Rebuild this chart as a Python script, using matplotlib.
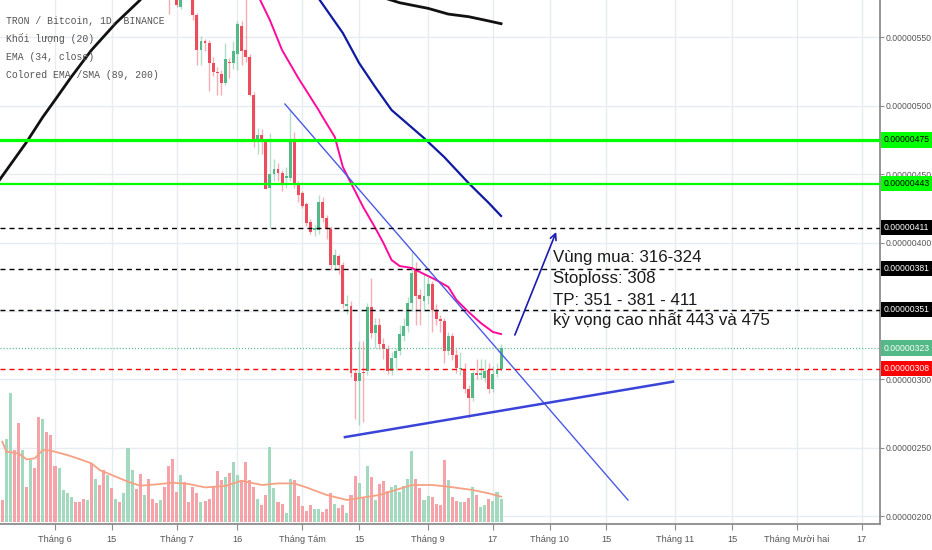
import matplotlib
matplotlib.use("Agg")
import matplotlib.pyplot as plt
import matplotlib.transforms as mtransforms
from matplotlib import font_manager
import numpy as np
import pandas as pd

plt.rcParams['lines.scale_dashes'] = False

# ---------------- data (prices in satoshi, 1 sat = 0.00000001 BTC) ----------------
start_date = "2018-05-19"
ref_date = "2018-06-01"

opens = [760, 748, 758, 790, 770, 742, 755, 748, 760, 745,
         712, 735, 710, 690, 680, 688, 694, 699, 703, 698,
         692, 688, 692, 670, 678, 672, 660, 668, 662, 665,
         660, 664, 690, 698, 680, 665, 670, 655, 648, 642,
         646, 625, 602, 590, 572, 598, 592, 586, 566, 540.5,
         547, 546, 531, 525, 523, 517, 532, 531, 538, 558,
         541, 536, 507.6, 474, 479, 474, 440, 450, 454, 451,
         447, 447, 474, 443, 436, 428, 415, 409.5, 409.5, 429.5,
         418, 410, 384, 390, 384, 353.5, 354, 305, 298.6, 305.5,
         306, 353, 333.7, 340, 325.7, 322, 306, 315.5, 320.6, 331.5,
         339, 355.6, 380, 362, 357, 361, 369.5, 350.5, 344, 342.5,
         320.6, 331.5, 318, 307.5, 308, 292.8, 286.2, 304.5, 303, 301,
         306.7, 292.8, 303.7, 307.4]
highs = [768, 764, 800, 796, 775, 760, 760, 766, 764, 750,
         742, 738, 714, 694, 692, 698, 703, 707, 706, 701,
         695, 696, 695, 683, 681, 675, 672, 671, 669, 668,
         668, 698, 704, 701, 684, 675, 673, 658, 651, 650,
         649, 628, 606, 594, 596, 604, 595, 590, 568, 551,
         549, 548, 536, 528, 526, 545.6, 535, 547, 562, 562,
         580, 538, 510, 483.5, 483, 476, 480, 461, 458, 453,
         455, 497, 481, 445, 438, 430, 417, 413, 435, 433,
         420, 412, 395, 392, 386, 362, 357, 308, 328, 328,
         356, 374, 345, 345, 330, 325, 320, 323, 340, 345,
         360, 393.6, 386, 366, 377, 375, 372, 355, 347, 345,
         335, 334, 322, 320, 312, 296, 306, 315, 315, 315,
         312, 310, 312, 325.6]
lows = [742, 744, 752, 764, 736, 738, 744, 745, 740, 705,
        708, 704, 684, 674, 676, 684, 690, 695, 694, 688,
        684, 685, 664, 666, 668, 655, 657, 658, 659, 656,
        657, 661, 686, 675, 660, 661, 650, 643, 637, 638,
        619, 567, 578, 572, 571, 588, 580, 563, 530, 530,
        540, 510.5, 522, 508, 508, 515, 520, 527, 526, 530,
        532, 507, 470, 465, 465, 439, 410.4, 445, 445, 438,
        440, 445, 440, 430, 425, 412, 406, 405, 406, 415,
        403, 380, 380, 377, 352, 348, 302, 271, 267, 269,
        303, 330, 323, 322, 315, 304, 303, 307, 318, 328,
        335, 350, 340, 340, 350, 355, 335, 340, 335, 312,
        318, 314, 305, 303, 290, 271.6, 284, 300, 300, 298,
        290, 291, 302, 306]
closes = [748, 758, 790, 770, 742, 755, 748, 760, 745, 712,
          735, 710, 690, 680, 688, 694, 699, 703, 698, 692,
          688, 692, 670, 678, 672, 660, 668, 662, 665, 660,
          664, 690, 698, 680, 665, 670, 655, 648, 642, 646,
          625, 600, 590, 574, 592, 592, 586, 566, 540.5, 547,
          546, 531, 525, 524, 517, 534, 531, 540, 559.5, 540,
          536, 507.6, 474, 479, 474, 439, 450, 454, 451, 443,
          448.5, 474, 443, 435, 426.5, 414, 408, 411, 429.5, 418,
          410, 384, 391, 384, 355, 355, 304.5, 298.6, 305, 304.5,
          353, 333.7, 340, 325.7, 322, 306, 315.5, 320.6, 333, 339,
          355.6, 377.6, 361, 359, 361, 369.5, 350.5, 344, 342.5, 320.6,
          331.5, 318, 308.5, 308.5, 292.8, 286.2, 304.5, 303.5, 304.5, 306.5,
          292.8, 303.7, 307.4, 323]
volumes = [21.7, 82.3, 129, 71.7, 98.3, 71.7, 34.3, 61.7, 53.3, 104.3,
           102.3, 89.7, 86.7, 55.7, 53.3, 31.7, 29, 25, 19.7, 19.7,
           22.7, 21.7, 58.3, 43, 36.7, 51.7, 47, 34, 22.7, 19.7,
           29, 73.7, 51.7, 32.3, 47.7, 26.7, 42.7, 22.7, 18.3, 21.7,
           34.3, 55.7, 62.3, 30, 47, 40, 19.7, 34.3, 29, 19.7,
           20.7, 23, 34.3, 51, 41.7, 44.3, 48.3, 60, 47, 41.7,
           60, 41.7, 34.3, 23, 16.7, 26.7, 74.7, 33.3, 19.7, 17.7,
           9, 42.7, 41.7, 25.7, 15.7, 11, 16.3, 12.3, 12.3, 9.7,
           12.3, 28.3, 17.7, 13.3, 16.3, 9, 26.7, 46, 39, 25,
           55.7, 45, 21.7, 37.7, 41, 31, 34.3, 36.3, 30, 35.7,
           42.7, 70.7, 42.7, 33.3, 21.7, 26, 25, 17.7, 16.7, 61.3,
           41.7, 25, 21, 19.3, 20, 24, 34.3, 26.7, 14.3, 16.3,
           23, 21, 30, 23]

# volume moving average (20): day offset from ref_date, value
vma_days = [-13, -12, -9, -7, -5, -3, -1, 3, 6, 9, 11, 14, 18, 21, 25, 29, 33, 37, 42, 46,
            51, 55, 59, 62, 67, 72, 76, 80, 84, 88, 93, 97, 103, 107, 110]
vma_vals = [80, 70, 68.3, 62.3, 63.3, 71.7, 71, 66.7, 62.7, 58.3, 51.7, 46.7, 40, 36, 37.3, 39, 37.7, 34.3, 35.7, 41,
            36.7, 38.3, 38.3, 34.3, 26.7, 21.7, 24.3, 26.7, 31.7, 36.7, 36.7, 35, 31.7, 28.3, 25]

# EMA 34 (magenta)
ema_days = [50, 53, 56, 60, 65, 66, 69, 71, 73, 76, 79, 81, 83, 85, 88, 90, 94, 97, 99, 102, 105, 108, 110]
ema_vals = [581, 562.6, 540.7, 520.3, 496.9, 491.8, 477.2, 455.2, 443.5, 426.0, 410.7, 399.7, 387.3, 382.9,
            381.5, 378.5, 372.7, 367.6, 358.1, 349.3, 341.3, 334.7, 333.2]

# Colored EMA/SMA (89, 200)
sma_blue_days = [65, 71, 75, 79, 83, 91, 96, 102, 107, 110]
sma_blue_vals = [578.5, 553.1, 531.2, 513.6, 496.9, 476.4, 462.5, 443.5, 428.9, 419.5]
sma_black_days = [-14, -7, -3, 0, 4, 9, 15, 21, 22, np.nan, 81, 85, 92, 97, 102, 106, 110]
sma_black_vals = [444.5, 473.5, 491.8, 504.2, 521.0, 540.7, 560.4, 577.3, 582, np.nan,
                  579, 575.3, 571.2, 567.0, 565.1, 562.6, 560.0]

# drawn trend lines (day offset, price)
trend_down_days = [56.7, 141.3]
trend_down_vals = [501.3, 211.9]
trend_up_days = [71.5, 152.4]
trend_up_vals = [257.9, 298.4]

# horizontal levels
level_vals = [475, 443, 411, 381, 351, 308]
level_kinds = ["green_thick", "green", "black", "black", "black", "red"]

# arrow and note
arrow_days = [113.4, 123.6]
arrow_vals = [332.5, 407.8]
note_lines = ["Vùng mua: 316-324", "Stoploss: 308", "TP: 351 - 381 - 411", "kỳ vọng cao nhất 443 và 475"]
note_day = 122.9
note_vals = [386.0, 370.7, 354.4, 339.8]

legend_lines = ["TRON / Bitcoin, 1D, BINANCE", "Khối lượng (20)", "EMA (34, close)", "Colored EMA /SMA (89, 200)"]

tick_dates = ["2018-06-01", "2018-06-15", "2018-07-01", "2018-07-16", "2018-08-01", "2018-08-15",
              "2018-09-01", "2018-09-17", "2018-10-01", "2018-10-15", "2018-11-01", "2018-11-15",
              "2018-12-01", "2018-12-17"]
tick_labels = ["Tháng 6", "15", "Tháng 7", "16", "Tháng Tám", "15", "Tháng 9", "17",
               "Tháng 10", "15", "Tháng 11", "15", "Tháng Mười hai", "17"]
price_ticks = [200, 250, 300, 350, 400, 450, 500, 550]
price_tick_labels = ["0.00000200", "0.00000250", "0.00000300", "", "0.00000400",
                     "0.00000450", "0.00000500", "0.00000550"]

# ---------------- fonts ----------------
avail = {f.name for f in font_manager.fontManager.ttflist}
if "Liberation Sans Narrow" in avail:
    axis_font, axis_size = ["Liberation Sans Narrow", "DejaVu Sans"], 7.4
else:
    axis_font, axis_size = ["Liberation Sans", "DejaVu Sans"], 6.2
mono_font = ["Liberation Mono", "DejaVu Sans Mono", "DejaVu Sans"]

# ---------------- derived ----------------
dates = pd.date_range(start_date, periods=len(opens), freq="D")
ref = pd.Timestamp(ref_date)
days = np.array([(d - ref).days for d in dates], dtype=float)
o = np.array(opens); h = np.array(highs); l = np.array(lows); c = np.array(closes)
up = c >= o
tick_days = [(pd.Timestamp(t) - ref).days for t in tick_dates]

UP = "#53b987"
DOWN = "#eb4d5c"
VOL_UP = "#a3d9bf"
VOL_DOWN = "#f5a3a9"
GRID = "#e7ecf1"
AXIS = "#8c8c8c"
TXT = "#555555"

fig = plt.figure(figsize=(9.32, 5.5), dpi=100)
fig.patch.set_facecolor("white")
ax = fig.add_axes([0, 26 / 550, 880 / 932, 524 / 550])
ax2 = ax.twinx()
ax.set_zorder(2)
ax.patch.set_visible(False)
ax2.set_zorder(1)
ax2.patch.set_facecolor("white")

ax.set_xlim(-13.56, 203.45)
ax.set_ylim(194.4, 577.3)
ax2.set_ylim(-2.3, 521.7)

# grid (drawn on lower axes)
for td in tick_days:
    ax2.axvline(td, color=GRID, lw=1, zorder=0)
ytrans = mtransforms.blended_transform_factory(ax2.transAxes, ax.transData)
for p in price_ticks:
    ax2.plot([0, 1], [p, p], transform=ytrans, color=GRID, lw=1, zorder=0)

# volume
ax2.bar(days, volumes, width=0.75, color=[VOL_UP if u else VOL_DOWN for u in up], zorder=1, linewidth=0)
ax2.plot(vma_days, vma_vals, color="#f7a183", lw=1.3, zorder=2)
ax2.yaxis.set_visible(False)
for s in ax2.spines.values():
    s.set_visible(False)

# candles
wick_cols = [UP if u else DOWN for u in up]
ax.vlines(days, l, h, colors=wick_cols, lw=1.0, alpha=0.45, zorder=3)
body_bottom = np.minimum(o, c)
body_h = np.maximum(np.abs(c - o), 0.9)
ax.bar(days, body_h, bottom=body_bottom, width=0.72, color=wick_cols, linewidth=0, zorder=4)

# indicator lines
ax.plot(sma_black_days, sma_black_vals, color="#111111", lw=2.0, zorder=5)
ax.plot(sma_blue_days, sma_blue_vals, color="#0e1aa0", lw=1.6, zorder=5)
ax.plot(ema_days, ema_vals, color="#ff0a9b", lw=1.4, zorder=5)

# trend lines
ax.plot(trend_down_days, trend_down_vals, color="#4b5ae6", lw=1.0, zorder=6)
ax.plot(trend_up_days, trend_up_vals, color="#3a44d8", lw=1.8, zorder=6)

# horizontal levels
styles = {
    "green_thick": dict(color="#00ff00", lw=2.3, ls="-"),
    "green": dict(color="#00ff00", lw=1.6, ls="-"),
    "black": dict(color="#000000", lw=1.0, ls=(0, (3.6, 2.9))),
    "red": dict(color="#ff0000", lw=1.0, ls=(0, (3.6, 2.9))),
}
for v, k in zip(level_vals, level_kinds):
    ax.axhline(v, zorder=6, **styles[k])
last_close = closes[-1]
ax.axhline(last_close, color=UP, lw=0.9, ls=(0, (0.8, 1.4)), zorder=6)

# arrow
ax.annotate("", xy=(arrow_days[1], arrow_vals[1]), xytext=(arrow_days[0], arrow_vals[0]),
            arrowprops=dict(arrowstyle="->", color="#1b1bb0", lw=1.2, shrinkA=0, shrinkB=0,
                            mutation_scale=11), zorder=7)

# note
for txt, yv in zip(note_lines, note_vals):
    ax.text(note_day, yv, txt, fontsize=12.2, family=["Liberation Sans", "DejaVu Sans"], color="#1a1a1a",
            va="baseline", ha="left", zorder=8)

# legend
for i, txt in enumerate(legend_lines):
    ax.text(6 / 880, 1 - (20.7 + 18.0 * i) / 524, txt, transform=ax.transAxes,
            fontsize=7.05, family=mono_font, color=TXT, va="center", ha="left", zorder=8)

# axes styling
for side in ["top", "left"]:
    ax.spines[side].set_visible(False)
for side in ["bottom", "right"]:
    ax.spines[side].set_color(AXIS)
    ax.spines[side].set_linewidth(1.3)
ax.yaxis.tick_right()
ax.set_yticks(price_ticks)
ax.set_yticklabels(price_tick_labels)
ax.tick_params(axis="y", length=3, width=0.8, color=AXIS, pad=1, labelsize=axis_size, labelcolor=TXT)
ax.set_xticks(tick_days)
ax.set_xticklabels(tick_labels)
ax.tick_params(axis="x", length=4, width=0.8, color=AXIS, pad=4, labelsize=axis_size + 0.4, labelcolor=TXT)
for lab in ax.get_xticklabels() + ax.get_yticklabels():
    lab.set_family(axis_font)

# price labels on the right scale
label_styles = {
    "green_thick": ("#00ff00", "#000000"),
    "green": ("#00ff00", "#000000"),
    "black": ("#000000", "#ffffff"),
    "red": ("#ff0000", "#ffffff"),
    "last": (UP, "#ffffff"),
}
box_vals = level_vals[:5] + [last_close] + level_vals[5:]
box_kinds = level_kinds[:5] + ["last"] + level_kinds[5:]
for v, k in zip(box_vals, box_kinds):
    fc, tc = label_styles[k]
    ax.annotate(f"{v * 1e-8:.8f}", xy=(1, v), xycoords=("axes fraction", "data"),
                xytext=(4, 0), textcoords="offset pixels", ha="left", va="center",
                fontsize=axis_size, family=axis_font, color=tc, annotation_clip=False,
                bbox=dict(boxstyle="square,pad=0.35", fc=fc, ec="none"), zorder=10)

fig.savefig("out.png", dpi=100)
